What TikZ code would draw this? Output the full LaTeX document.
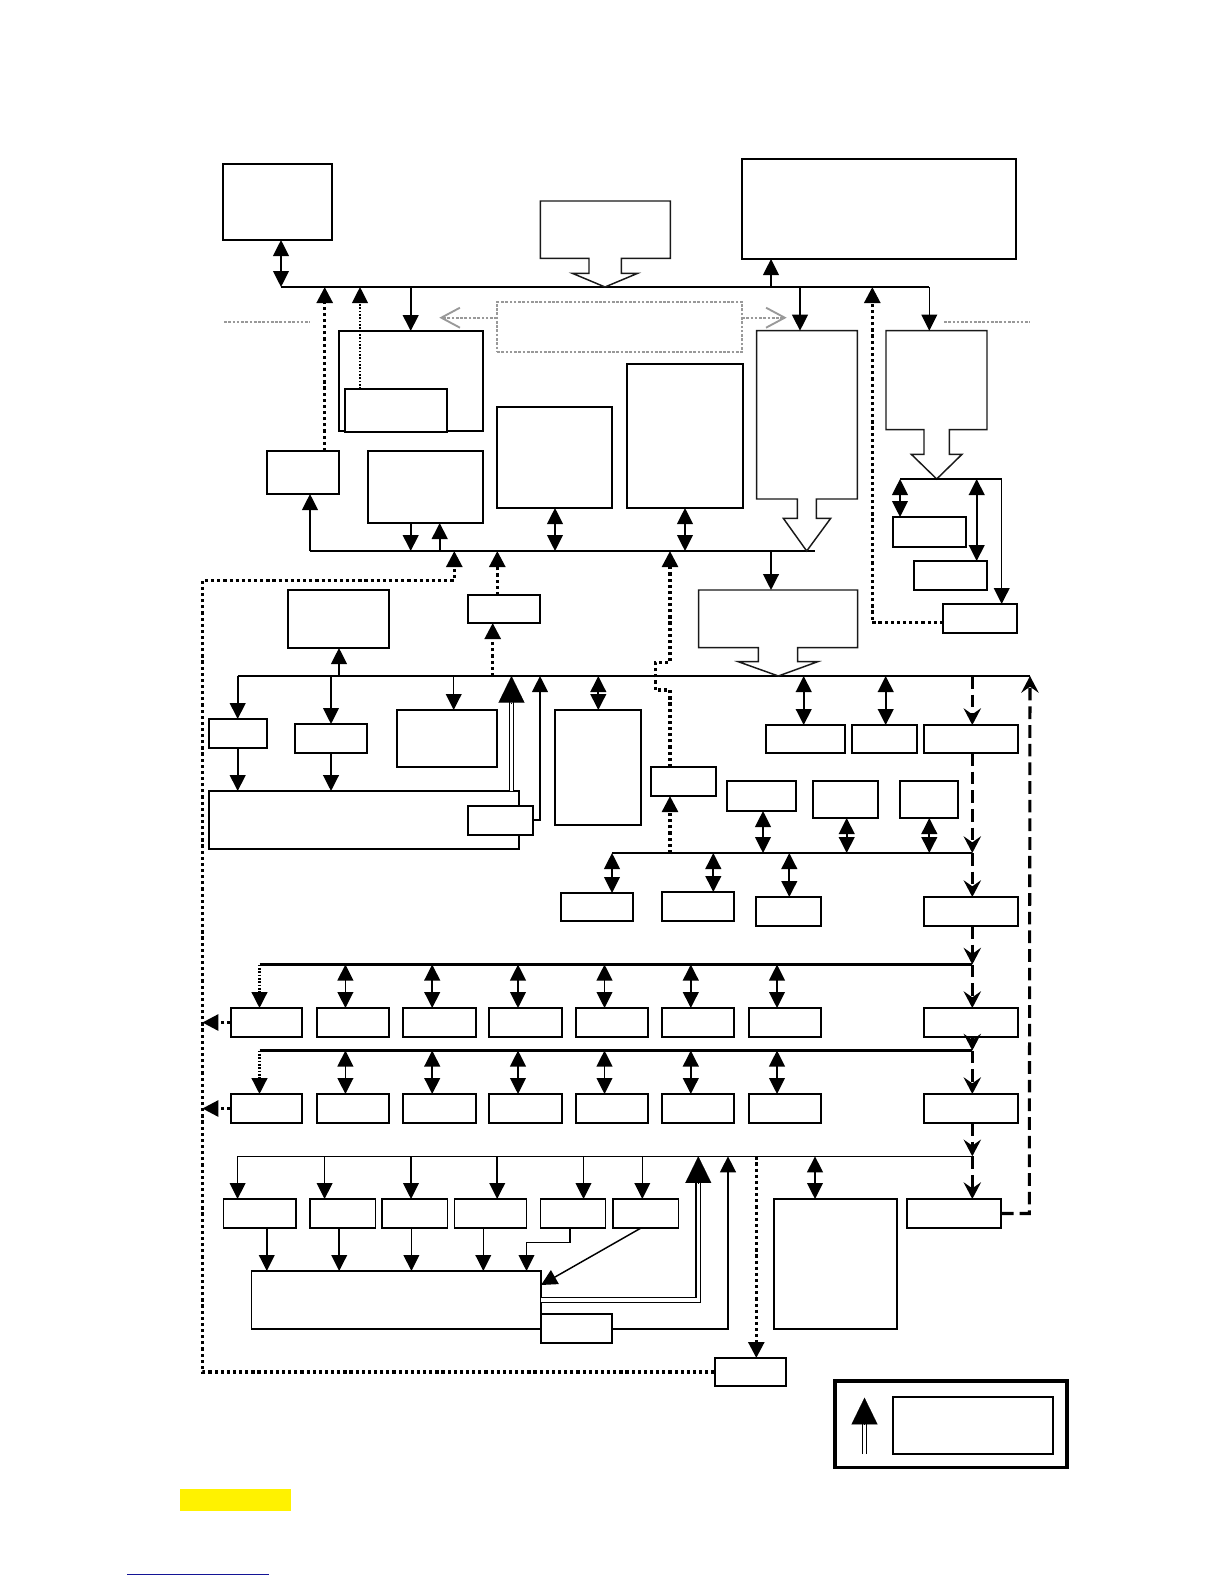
\documentclass[tikz,border=0pt]{standalone}
\usetikzlibrary{arrows.meta,fit}
\definecolor{linkblue}{RGB}{20,20,150}
\tikzset{
 tri/.tip={Triangle[width=11.8pt,length=12pt]},
 btri/.tip={Triangle[width=19.5pt,length=20pt]},
 stl/.tip={Stealth[width=13pt,length=12.5pt,inset=4.5pt]},
 gtip/.tip={Straight Barb[width=15pt,length=14pt,line width=1.4pt]},
 thk/.style={draw,line width=1.5pt},
 thn/.style={draw,line width=1pt},
 bus/.style={line width=1.1pt},
 hbus/.style={line width=1.6pt},
 arr/.style={line width=1.5pt,-tri},
 tarr/.style={line width=1.1pt,-tri},
 darr/.style={line width=1.3pt,tri-tri},
 dots/.style={line width=2.5pt,dash pattern=on 2.4pt off 2.2pt},
 tdots/.style={line width=1.3pt,dash pattern=on 1.3pt off 1.2pt},
 dashd/.style={line width=2.3pt,dash pattern=on 9.5pt off 4.5pt},
 gdots/.style={draw=black!40,line width=1.6pt,dash pattern=on 2pt off 1.2pt},
 callout/.style={draw=black!90,line width=1.1pt},
 dblline/.style={line width=1pt,double,double distance=2.4pt},
}
\newcommand\bx[6][thk]{\node[#1,fit={(#3,#4) (#5,#6)},inner sep=0pt,outer sep=0pt] (#2) {};}
\begin{document}
\begin{tikzpicture}[x=0.75pt,y=-0.75pt]
\useasboundingbox (0,0) rectangle (1224,1584);

% ---------- buses ----------
\draw[bus] (281,287) coordinate (bus1w) -- (929.3,287) coordinate (bus1e);
\draw[bus] (310,551) coordinate (bus2w) -- (815,551) coordinate (bus2e);
\draw[bus] (237.7,676) coordinate (bus3w) -- (1030,676) coordinate (bus3e);
\draw[bus] (612,853) coordinate (bus4w) -- (972.3,853) coordinate (bus4e);
\draw[hbus] (259.5,964.5) coordinate (bus5w) -- (972.3,964.5) coordinate (bus5e);
\draw[hbus] (259.5,1050.5) coordinate (bus6w) -- (972.3,1050.5) coordinate (bus6e);
\draw[bus] (237.6,1156.3) coordinate (bus7w) -- (972.3,1156.3) coordinate (bus7e);

% ---------- boxes ----------
\bx{tl}{223}{164}{332}{240}
\bx{tr}{742}{159}{1016}{259}
\bx{b2}{339}{331}{483}{431}
\bx[thn,fill=white]{b2in}{345}{389}{447}{432}
\bx{sb}{267}{451}{339}{494}
\bx{b3}{368}{451}{483}{523}
\bx[thn]{b4}{497}{407}{612}{508}
\bx[thn]{b5}{627}{364}{743}{508}
\bx{r1}{893}{517}{966}{547}
\bx{r2}{914}{561}{987}{590}
\bx{r3}{943}{604}{1017}{633}
\bx[gdots]{gbox}{497}{302}{742}{352}
\bx{m1}{288}{590}{389}{648}
\bx[thn]{m2}{468}{595}{540}{623}
\bx[thn]{L1}{209}{719}{267}{748}
\bx{L2}{295}{724}{367}{753}
\bx{L3}{397}{710}{497}{767}
\bx[thn]{BB}{209}{791}{519}{849}
\bx[thk,fill=white]{SB}{468}{806}{533}{835}
\bx{T1}{555}{710}{641}{825}
\bx{J}{651}{767}{716}{796}
\bx{Q1}{766}{725}{845}{753}
\bx{Q2}{852}{725}{917}{753}
\bx{Q3}{924}{725}{1018}{753}
\bx{P1}{727}{781}{796}{811}
\bx{P2}{813}{781}{878}{818}
\bx{P3}{900}{781}{958}{818}
\bx{S1}{561}{893}{633}{921}
\bx{S2}{662}{892}{734}{921}
\bx{S3}{756}{897}{821}{926}
\bx{S4}{924}{897}{1018}{926}
\foreach \i/\a/\b in {1/230.5/302,2/317/389,3/403/475.5,4/489/561.5,5/575.5/647.5,6/661.5/734,7/748.5/821,8/924/1018}{
  \bx{A\i}{\a}{1008}{\b}{1037}
  \bx{B\i}{\a}{1094}{\b}{1123}
}
\foreach \i/\a/\b in {1/223.5/296,2/310/375.5,3/382/447.5,4/454.5/526.5,5/540.5/605.5,6/613/678.5,7/907/1001}{
  \bx[thn]{C\i}{\a}{1199}{\b}{1228}
}
\bx[thn]{BB2}{251.5}{1271}{541}{1329}
\bx[thn]{SB2}{541}{1314}{612}{1343}
\bx[thn]{TT}{774}{1199}{897}{1329}
\bx{K}{714.5}{1358}{785.5}{1386}
\bx[draw,line width=2.3pt]{Leg}{835}{1381}{1067}{1467.5}
\bx{LegIn}{893}{1397}{1052.5}{1454}

% ---------- callout shapes ----------
\draw[callout] (540.3,201) -- (670.3,201) -- (670.3,258.3) -- (621.3,258.3) -- (621.3,273.3) -- (637.7,273.3) -- (605,287) coordinate (c1tip) -- (572.3,273.3) -- (589,273.3) -- (589,258.3) -- (540.3,258.3) -- cycle;
\draw[callout] (756.7,330.7) coordinate (c2top) -- (857.3,330.7) -- (857.3,499) -- (816.3,499) -- (816.3,518.3) -- (830.7,518.3) -- (806.7,551) coordinate (c2tip) -- (783.3,518.3) -- (797.3,518.3) -- (797.3,499) -- (756.7,499) -- cycle;
\draw[callout] (886,330.7) -- (987,330.7) -- (987,429.7) -- (949.3,429.7) -- (949.3,454.3) -- (962,454.3) -- (936.7,479) coordinate (c3tip) -- (911.3,454.3) -- (924,454.3) -- (924,429.7) -- (886,429.7) -- cycle;
\draw[callout] (698.7,590) -- (857.7,590) -- (857.7,647.7) -- (797.7,647.7) -- (797.7,661.7) -- (817.7,661.7) -- (778.3,676) coordinate (c4tip) -- (738.3,661.7) -- (758.3,661.7) -- (758.3,647.7) -- (698.7,647.7) -- cycle;

% ---------- grey dotted separators ----------
\draw[gdots] (224,321.7) -- (310,321.7);
\draw[gdots] (944,321.7) -- (1030,321.7);
\draw[gdots,-gtip] (gbox.west |- 0,317.7) -- (439.3,317.7);
\draw[gdots,-gtip] (gbox.east |- 0,317.7) -- (786.7,317.7);

% ---------- top bus connectors ----------
\draw[darr] (tl.south -| bus1w) -- (bus1w);
\draw[tarr] (771,287) -- (tr.south -| 771,0);
\draw[arr] (410.7,287) -- (b2.north -| 410.7,0);
\draw[arr] (800,287) -- (800,330.7);
\draw[tarr] (bus1e) -- (929.3,330.7);
\draw[dots,-tri] (sb.north -| 324.7,0) -- (324.7,287);
\draw[tdots,-tri] (b2in.north -| 360,0) -- (360,287);
\draw[dots,-tri] (r3.west |- 0,622.7) -- (872.3,622.7) -- (872.3,287);

% ---------- second bus ----------
\draw[tarr] (bus2w) -- (sb.south -| bus2w);
\draw[arr] (b3.south -| 410.7,0) -- (410.7,551);
\draw[arr] (439.7,551) -- (b3.south -| 439.7,0);
\draw[darr] (b4.south -| 555,0) -- (555,551);
\draw[darr] (b5.south -| 685,0) -- (685,551);
\draw[arr] (771,551) -- (771,590);
\draw[dots,-tri] (K.west) -- (202.3,1372) -- (202.3,580.5) -- (454.3,580.5) -- (454.3,551);
\draw[dots,-tri] (m2.north -| 497.3,0) -- (497.3,551);
\draw[dots,-tri] (J.north -| 670,0) -- (670,690) -- (655.3,690) -- (655.3,662.7) -- (670,662.7) -- (670,551);

% ---------- right cluster ----------
\draw[bus] (900,479) -- (1001.7,479);
\draw[darr] (900,479) -- (r1.north -| 900,0);
\draw[darr] (976.7,479) -- (r2.north -| 976.7,0);
\draw[tarr] (1001.7,479) -- (r3.north -| 1001.7,0);

% ---------- third bus ----------
\draw[tarr] (339,676) -- (m1.south -| 339,0);
\draw[dots,-tri] (492.7,676) -- (m2.south -| 492.7,0);
\draw[arr] (bus3w) -- (L1.north -| bus3w);
\draw[arr] (L1.south -| bus3w) -- (BB.north -| bus3w);
\draw[tarr] (331,676) -- (L2.north -| 331,0);
\draw[arr] (L2.south -| 331,0) -- (BB.north -| 331,0);
\draw[tarr] (453.7,676) -- (L3.north -| 453.7,0);
\draw[dblline] (BB.north -| 511.5,0) -- (511.5,702);
\draw[line width=0.1pt,-btri] (511.5,703) -- (511.5,676);
\draw[tarr] (SB.east |- 0,820) -- (540,820) -- (540,676);
\draw[darr] (598.3,676) -- (T1.north -| 598.3,0);
\draw[darr] (803.7,676) -- (Q1.north -| 803.7,0);
\draw[darr] (885.7,676) -- (Q2.north -| 885.7,0);
\draw[dashd,-stl] (972.3,676) -- (Q3.north -| 972.3,0);
\draw[dashd,-stl] (Q3.south -| 972.3,0) -- (bus4e);
\draw[dashd,-stl] (bus4e) -- (S4.north -| 972.3,0);

% ---------- fourth bus ----------
\draw[darr] (P1.south -| 763,0) -- (763,853);
\draw[darr] (P2.south -| 846.7,0) -- (846.7,853);
\draw[darr] (P3.south -| 929.3,0) -- (929.3,853);
\draw[dots,-tri] (670,853) -- (J.south -| 670,0);
\draw[darr] (bus4w) -- (S1.north -| bus4w);
\draw[darr] (713.3,853) -- (S2.north -| 713.3,0);
\draw[darr] (789.3,853) -- (S3.north -| 789.3,0);
\draw[dashd,-stl] (S4.south -| 972.3,0) -- (bus5e);
\draw[dashd,-stl] (bus5e) -- (A8.north -| 972.3,0);

% ---------- fifth and sixth buses ----------
\draw[tdots,line width=1.6pt,-tri] (bus5w) -- (A1.north -| bus5w);
\draw[tdots,line width=1.6pt,-tri] (bus6w) -- (B1.north -| bus6w);
\foreach \i/\x in {2/345.4,3/432.2,4/518,5/604.5,6/690.8,7/777}{
  \draw[darr] (\x,964.5) -- (A\i.north -| \x,0);
  \draw[darr] (\x,1050.5) -- (B\i.north -| \x,0);
}
\draw[dots,-tri] (A1.west) -- (202.3,1022.5);
\draw[dots,-tri] (B1.west) -- (202.3,1108.5);
\draw[dashd,-stl] (A8.south -| 972.3,0) -- (bus6e);
\draw[dashd,-stl] (bus6e) -- (B8.north -| 972.3,0);
\draw[dashd,-stl] (B8.south -| 972.3,0) -- (bus7e);
\draw[dashd,-stl] (bus7e) -- (C7.north -| 972.3,0);
\draw[dashd,-stl] (C7.east) -- (1029.3,1213.5) -- (bus3e);

% ---------- seventh bus ----------
\foreach \i/\x in {1/237.6,2/324.6,3/411,4/497.2,5/583.5,6/642.3}{
  \draw[tarr] (\x,1156.3) -- (C\i.north -| \x,0);
}
\foreach \i/\x in {1/266.8,2/339.2,3/411.4,4/483.3}{
  \draw[tarr] (C\i.south -| \x,0) -- (BB2.north -| \x,0);
}
\draw[tarr] (C5.south -| 570,0) -- (570,1242.3) -- (526.5,1242.3) -- (BB2.north -| 526.5,0);
\draw[tarr] (C6.south -| 641,0) -- (BB2.east |- 0,1285);
\draw[dblline] (BB2.east |- 0,1300) -- (698.3,1300) -- (698.3,1182);
\draw[line width=0.1pt,-btri] (698.3,1183) -- (698.3,1156.3);
\draw[line width=1.6pt,-tri] (SB2.east |- 0,1329) -- (728,1329) -- (728,1156.3);
\draw[dots,-tri] (756.3,1156.3) -- (K.north -| 756.3,0);
\draw[darr] (815,1156.3) -- (TT.north -| 815,0);

% ---------- legend ----------
\draw[dblline] (864.5,1454) -- (864.5,1423);
\draw[line width=0.1pt,-btri] (864.5,1424) -- (864.5,1397.7);

% ---------- marks ----------
\fill[yellow] (180,1489) rectangle (291,1511);
\draw[line width=1pt,linkblue] (127.3,1574.7) -- (269,1574.7);
\end{tikzpicture}
\end{document}
